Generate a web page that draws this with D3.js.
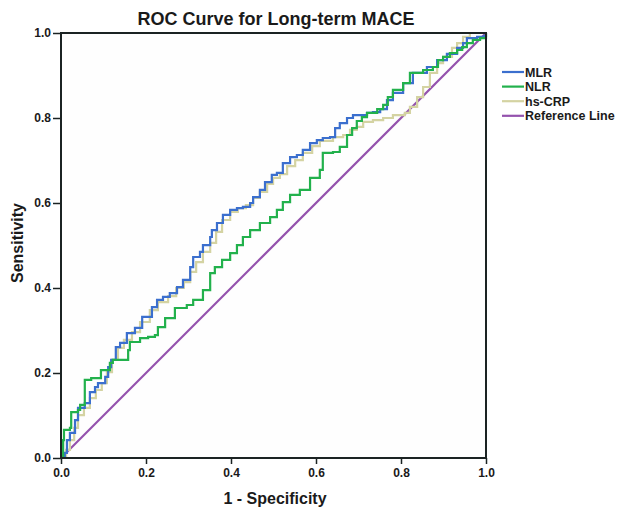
<!DOCTYPE html>
<html>
<head>
<meta charset="utf-8">
<script src="https://cdn.jsdelivr.net/npm/d3@7"></script>
<style>
  html, body { margin: 0; padding: 0; background: #ffffff; }
  svg { display: block; }
  text { font-family: "Liberation Sans", Arial, sans-serif; font-weight: bold; fill: #1a1a1a; }
</style>
</head>
<body>
<svg id="chart" width="622" height="509"></svg>
<script>
// ---- Data (1 - specificity, sensitivity) ----
const seriesNames = ["MLR", "NLR", "hs-CRP", "Reference Line"];
const seriesColors = ["#3b6fce", "#22b14c", "#d4d3a2", "#9452ad"];

const mlrFpr = [0,0.009,0.014,0.021,0.033,0.040,0.056,0.068,0.080,0.087,0.104,0.111,0.118,0.129,0.139,0.155,0.174,0.191,0.214,0.226,0.240,0.256,0.273,0.287,0.304,0.311,0.327,0.334,0.351,0.355,0.367,0.381,0.398,0.414,0.428,0.445,0.452,0.468,0.480,0.496,0.508,0.522,0.539,0.555,0.569,0.586,0.602,0.616,0.633,0.645,0.656,0.673,0.687,0.720,0.734,0.751,0.767,0.781,0.805,0.828,0.861,0.885,0.908,0.932,0.946,0.955,0.979,0.995,1];
const mlrTpr = [0,0.012,0.042,0.059,0.089,0.118,0.129,0.155,0.167,0.176,0.191,0.214,0.231,0.261,0.271,0.294,0.306,0.332,0.355,0.372,0.379,0.388,0.402,0.419,0.449,0.473,0.485,0.501,0.520,0.536,0.553,0.572,0.584,0.588,0.591,0.600,0.614,0.631,0.649,0.666,0.671,0.694,0.708,0.713,0.725,0.741,0.748,0.753,0.755,0.776,0.788,0.800,0.807,0.812,0.814,0.821,0.842,0.859,0.882,0.906,0.920,0.936,0.951,0.965,0.976,0.988,0.991,0.993,1];

const nlrFpr = [0,0.005,0.007,0.021,0.024,0.040,0.045,0.056,0.071,0.094,0.115,0.122,0.139,0.153,0.158,0.162,0.186,0.205,0.221,0.228,0.245,0.268,0.296,0.311,0.334,0.351,0.362,0.379,0.398,0.414,0.428,0.445,0.468,0.492,0.508,0.522,0.539,0.562,0.586,0.609,0.616,0.640,0.656,0.673,0.685,0.696,0.708,0.720,0.744,0.758,0.769,0.781,0.805,0.821,0.852,0.875,0.887,0.899,0.915,0.932,0.944,0.955,0.969,0.986,1];
const nlrTpr = [0,0.042,0.066,0.071,0.108,0.113,0.125,0.184,0.188,0.207,0.224,0.231,0.231,0.231,0.254,0.273,0.282,0.285,0.289,0.308,0.329,0.353,0.360,0.372,0.395,0.435,0.449,0.466,0.482,0.501,0.520,0.536,0.553,0.567,0.584,0.602,0.619,0.631,0.659,0.678,0.718,0.720,0.732,0.760,0.776,0.793,0.802,0.812,0.821,0.831,0.849,0.866,0.882,0.906,0.913,0.920,0.936,0.944,0.953,0.960,0.967,0.976,0.984,0.988,1];

const crpFpr = [0,0.012,0.021,0.031,0.040,0.054,0.068,0.082,0.096,0.108,0.120,0.134,0.148,0.167,0.186,0.209,0.228,0.252,0.271,0.289,0.304,0.318,0.334,0.351,0.365,0.379,0.398,0.416,0.435,0.452,0.468,0.485,0.499,0.515,0.532,0.551,0.569,0.591,0.609,0.640,0.664,0.680,0.696,0.711,0.734,0.758,0.781,0.809,0.821,0.838,0.852,0.868,0.885,0.899,0.920,0.932,0.946,0.962,1];
const crpTpr = [0,0.019,0.042,0.071,0.101,0.118,0.141,0.160,0.176,0.202,0.231,0.259,0.278,0.296,0.320,0.348,0.367,0.381,0.400,0.414,0.438,0.461,0.485,0.506,0.532,0.560,0.579,0.588,0.595,0.612,0.626,0.645,0.659,0.668,0.687,0.701,0.718,0.734,0.746,0.755,0.760,0.772,0.779,0.791,0.795,0.800,0.807,0.812,0.826,0.849,0.873,0.906,0.929,0.944,0.965,0.976,0.991,1.0,1];

const refFpr = [0, 1];
const refTpr = [0, 1];

const tickValues = [0, 0.2, 0.4, 0.6, 0.8, 1.0];
const titleText = "ROC Curve for Long-term MACE";
const xLabel = "1 - Specificity";
const yLabel = "Sensitivity";

// ---- Layout ----
const svg = d3.select("#chart");
const pLeft = 61, pRight = 486, pTop = 33, pBottom = 458;

const x = d3.scaleLinear().domain([0, 1]).range([pLeft, pRight]);
const y = d3.scaleLinear().domain([0, 1]).range([pBottom, pTop]);

const zip = (a, b) => a.map((v, i) => [v, b[i]]);
const series = [
  { name: seriesNames[0], color: seriesColors[0], pts: zip(mlrFpr, mlrTpr), step: true },
  { name: seriesNames[1], color: seriesColors[1], pts: zip(nlrFpr, nlrTpr), step: true },
  { name: seriesNames[2], color: seriesColors[2], pts: zip(crpFpr, crpTpr), step: true },
  { name: seriesNames[3], color: seriesColors[3], pts: zip(refFpr, refTpr), step: false }
];

svg.append("rect").attr("x", pLeft).attr("y", pTop)
  .attr("width", pRight - pLeft).attr("height", pBottom - pTop)
  .attr("fill", "#fefefe");

const drawOrder = [3, 2, 0, 1];
drawOrder.forEach(i => {
  const s = series[i];
  const line = d3.line().x(d => x(d[0])).y(d => y(d[1]))
    .curve(s.step ? d3.curveStepAfter : d3.curveLinear);
  svg.append("path").datum(s.pts)
    .attr("d", line)
    .attr("fill", "none")
    .attr("stroke", s.color)
    .attr("stroke-width", 2.2)
    .attr("stroke-linejoin", "miter");
});

svg.append("rect").attr("x", pLeft).attr("y", pTop)
  .attr("width", pRight - pLeft).attr("height", pBottom - pTop)
  .attr("fill", "none").attr("stroke", "#1b2323").attr("stroke-width", 2);

const xAxis = d3.axisBottom(x).tickValues(tickValues).tickFormat(d3.format(".1f")).tickSize(6).tickPadding(4);
const yAxis = d3.axisLeft(y).tickValues(tickValues).tickFormat(d3.format(".1f")).tickSize(8).tickPadding(2);

const gx = svg.append("g").attr("transform", `translate(0,${pBottom})`).call(xAxis);
const gy = svg.append("g").attr("transform", `translate(${pLeft},0)`).call(yAxis);
[gx, gy].forEach(g => {
  g.select(".domain").remove();
  g.selectAll(".tick line").attr("stroke", "#1b2323").attr("stroke-width", 1.5);
  g.selectAll(".tick text").attr("fill", "#1a1a1a")
    .style("font-size", "12px").style("font-weight", "bold")
    .style("font-family", "'Liberation Sans', Arial, sans-serif");
});

svg.append("text").attr("x", 276).attr("y", 25)
  .attr("text-anchor", "middle").style("font-size", "18px").text(titleText);

svg.append("text").attr("x", 275).attr("y", 504)
  .attr("text-anchor", "middle").style("font-size", "16px").text(xLabel);
svg.append("text").attr("transform", `translate(23,243) rotate(-90)`)
  .attr("text-anchor", "middle").style("font-size", "16px").text(yLabel);

const legend = svg.append("g").attr("transform", "translate(502,72)");
series.forEach((s, i) => {
  const g = legend.append("g").attr("transform", `translate(0,${i * 14.6})`);
  g.append("line").attr("x1", 0).attr("x2", 22).attr("y1", 0).attr("y2", 0)
    .attr("stroke", s.color).attr("stroke-width", 2.2);
  g.append("text").attr("x", 23).attr("y", 4.5).style("font-size", "12.5px").text(s.name);
});
</script>
</body>
</html>
